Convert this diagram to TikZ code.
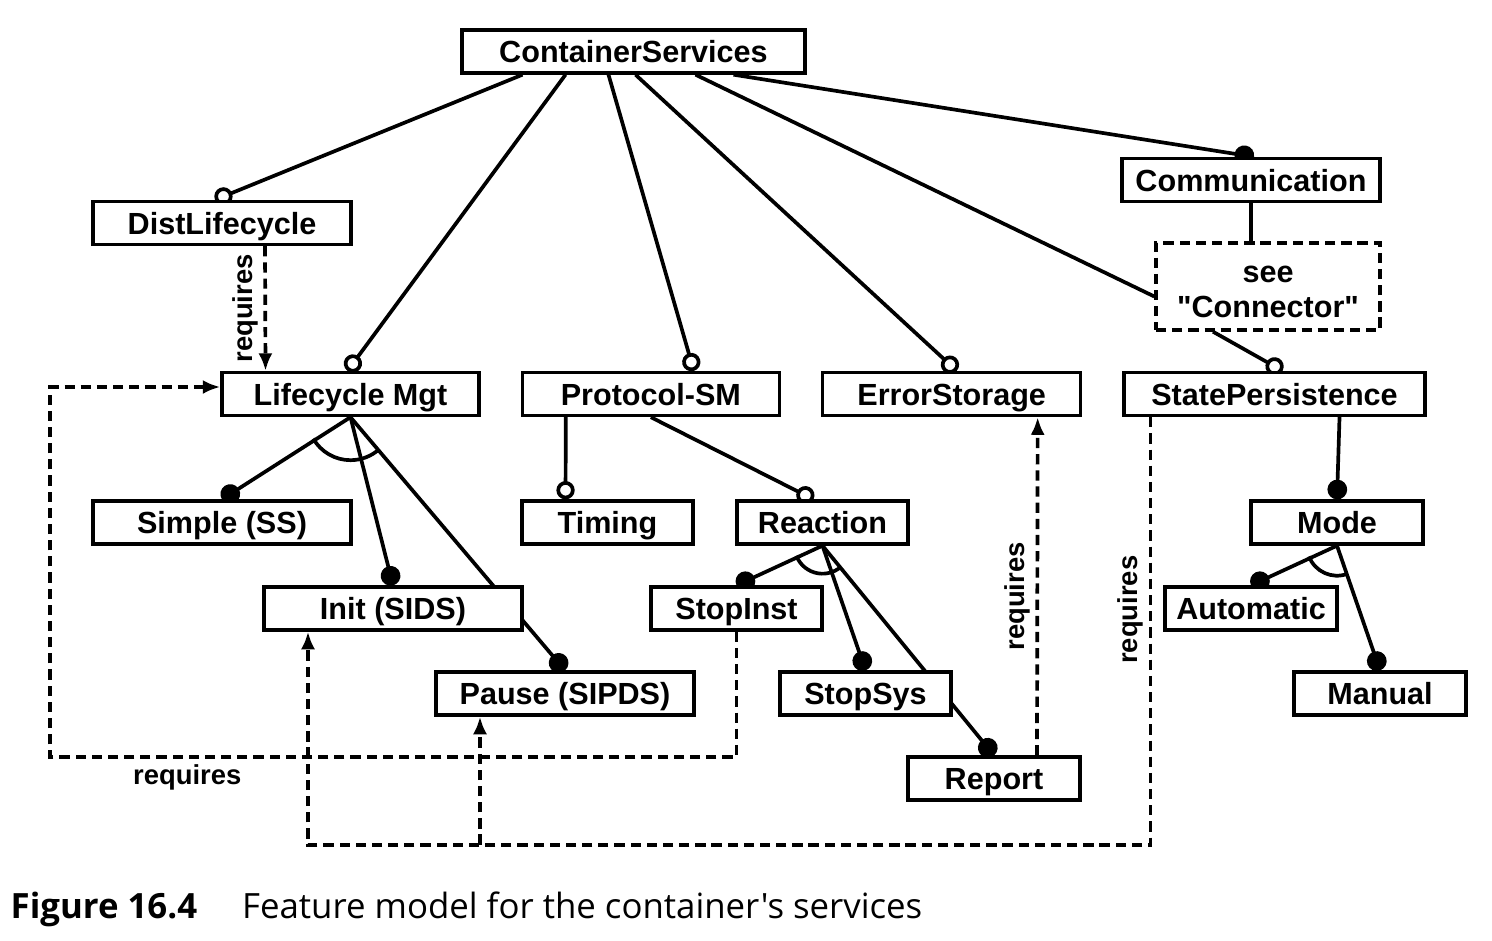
\documentclass[tikz,border=0pt]{standalone}
\usepackage{fontspec}
\setmainfont{Liberation Sans}
\newfontfamily\featfont{Liberation Sans}
\newfontfamily\capfont{Open Sans}
\usetikzlibrary{positioning, arrows.meta, backgrounds}

\begin{document}
\begin{tikzpicture}[
     node distance = 3mm and 4.0mm,
                 > = {Latex[length=5pt,width=4pt]},
        box/.style = {rectangle, draw, fill=white, line width=0.95pt,
                     minimum width=#1, minimum height=4.3mm, inner sep=1pt,
                     text height=6.9pt, text depth=0.6pt,
                     font=\featfont\fontsize{8.7}{10}\selectfont\bfseries},
      box/.default = 25.8mm,
       conn/.style = {line width=1.05pt},
        opt/.style = {conn, -{Circle[open,length=5.2pt]}},
        man/.style = {conn, -{Circle[length=5.6pt]}},
        req/.style = {conn, ->, dash pattern=on 2.9pt off 1.7pt},
     reqlbl/.style = {font=\featfont\fontsize{7.8}{9}\selectfont\bfseries, inner sep=1.5pt}
                        ]
\useasboundingbox (0,0) rectangle (14.92,-9.40);
\node (cs) [box=34.3mm] at (6.335,-0.515) {ContainerServices};
\node (dist) [box] at (2.22,-2.23) {DistLifecycle};
\node (comm) [box] at (12.51,-1.80) {Communication};
\node (see) [box=22.4mm, dash pattern=on 2.9pt off 1.7pt, minimum height=8.7mm,
             text height=, text depth=, align=center] at (12.68,-2.865)
             {\rule{0pt}{7.8pt}see\\"Connector"};
\node (lm) [box=25.7mm] at (3.505,-3.94) {Lifecycle Mgt};
\node (psm) [box=25.7mm, right=of lm] {Protocol-SM};
\node (es) [box, right=of psm] {ErrorStorage};
\node (sp) [box=30.1mm, right=of es] {StatePersistence};
\node (simple) [box] at (2.22,-5.225) {Simple (SS)};
\node (timing) [box=17.1mm] at (6.075,-5.225) {Timing};
\node (reaction) [box=17.1mm] at (8.225,-5.225) {Reaction};
\node (mode) [box=17.2mm] at (13.37,-5.225) {Mode};
\node (init) [box] at (3.93,-6.085) {Init (SIDS)};
\node (stopinst) [box=17.1mm] at (7.365,-6.085) {StopInst};
\node (auto) [box=17.2mm] at (12.51,-6.085) {Automatic};
\node (pause) [box] at (5.65,-6.935) {Pause (SIPDS)};
\node (stopsys) [box=17.1mm] at (8.655,-6.935) {StopSys};
\node (manual) [box=17.2mm] at (13.80,-6.935) {Manual};
\node (report) [box=17.2mm] at (9.94,-7.785) {Report};
\node (cap) [anchor=base west, inner sep=0, font=\capfont\fontsize{9.9}{11}\selectfont]
      at (0.10,-9.18) {\textbf{Figure 16.4}\hspace{4.5mm}Feature model for the container's services};

\begin{pgfonlayer}{background}
% ContainerServices
\draw[opt] ([xshift=-1.11cm]cs.south) -- ([xshift=-0.07cm]dist.north);
\draw[opt] ([xshift=-0.68cm]cs.south) -- ([xshift=-0.03cm]lm.north);
\draw[opt] ([xshift=-0.25cm]cs.south) -- ([xshift=0.43cm]psm.north);
\draw[opt] ([xshift=0.02cm]cs.south) -- ([xshift=0.05cm]es.north);
\draw[conn] ([xshift=0.62cm]cs.south) -- ([yshift=-0.1cm]see.west);
\draw[opt] ([xshift=-0.55cm]see.south) -- ([xshift=0.08cm]sp.north);
\draw[man] ([xshift=1.0cm]cs.south) -- ([xshift=0.03cm]comm.north);
\draw[conn] (comm.south) -- ([xshift=-0.17cm]see.north);
% Lifecycle Mgt
\draw[man] (lm.south) -- (simple.north);
\draw[man] (lm.south) -- (init.north);
\draw[man] (lm.south) -- (pause.north);
\draw[conn] ([shift={(210:0.43)}]lm.south) arc (210:311:0.43);
% Protocol-SM
\draw[opt] ([xshift=-0.85cm]psm.south) -- ([xshift=-0.42cm]timing.north);
\draw[opt] (psm.south) -- ([xshift=-0.09cm]reaction.north);
\draw[man] (reaction.south) -- (stopinst.north);
\draw[man] (reaction.south) -- (stopsys.north);
\draw[man] (reaction.south) -- (report.north);
\draw[conn] ([shift={(201:0.28)}]reaction.south) arc (201:310:0.28);
% StatePersistence
\draw[man] ([xshift=0.65cm]sp.south) -- (mode.north);
\draw[man] (mode.south) -- (auto.north);
\draw[man] (mode.south) -- (manual.north);
\draw[conn] ([shift={(201:0.30)}]mode.south) arc (201:290:0.30);
\end{pgfonlayer}

% requires
\draw[req] ([xshift=0.43cm]dist.south) -- node[reqlbl, rotate=90, anchor=south] {requires}
      ([xshift=-0.85cm]lm.north);
\coordinate (lbend) at (0.5,-7.57);
\draw[req] (stopinst.south) |- node[reqlbl, pos=0.9, anchor=north] {requires}
      (lbend) |- ([yshift=0.07cm]lm.west);
\draw[req] ([xshift=-1.24cm]sp.south) -- node[reqlbl, pos=0.45, rotate=90, anchor=south] {requires}
      ++(0,-4.28) -| ([xshift=-0.85cm]init.south);
\draw[req] ([xshift=-0.85cm]pause.south) ++(0,-1.28) -- ([xshift=-0.85cm]pause.south);
\draw[req] ([xshift=0.43cm]report.north) -- node[reqlbl, pos=0.47, rotate=90, anchor=south] {requires}
      ([xshift=0.86cm]es.south);
\end{tikzpicture}
\end{document}
